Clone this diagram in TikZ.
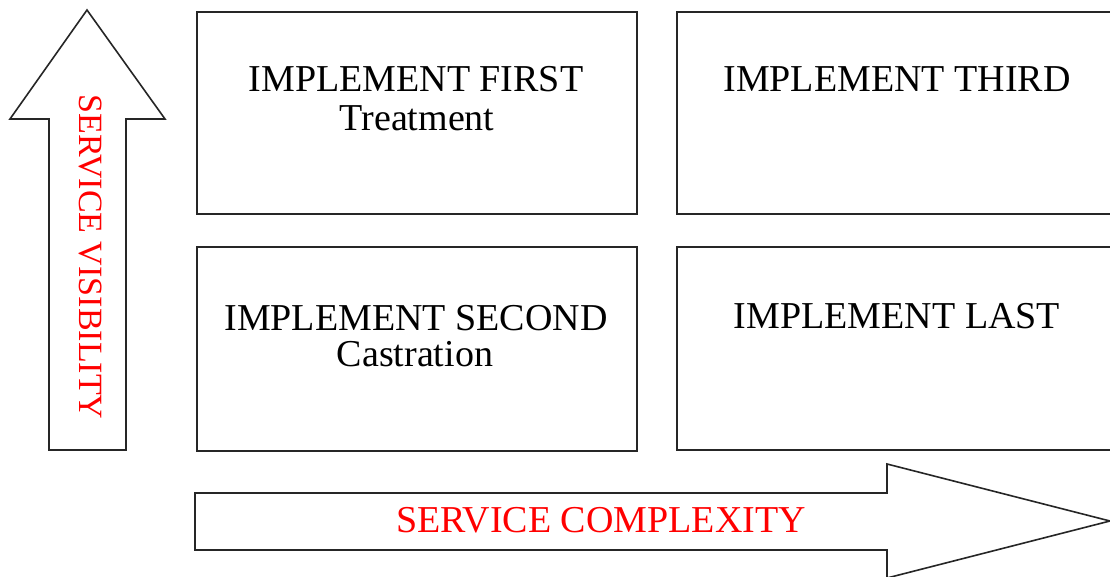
\documentclass[tikz,border=0pt]{standalone}
\usepackage{fontspec}
\setmainfont{Liberation Serif}
\begin{document}
\begin{tikzpicture}[x=1pt,y=-1pt,
  quad/.style={draw=black!85,line width=1.6pt,anchor=north west,inner sep=0pt},
  bigarrow/.style={draw=black!85,line width=1.6pt,line join=miter,fill=white},
  lbl/.style={font=\fontsize{38}{41}\selectfont,inner sep=0pt,anchor=base},
  axis/.style={font=\fontsize{34}{38}\selectfont,text=red,inner sep=0pt}]
\useasboundingbox (0,0) rectangle (1110,577);
% quadrant boxes
\node[quad,minimum width=440pt,minimum height=202pt] (q1) at (196,11) {};
\node[quad,minimum width=440pt,minimum height=202pt] (q3) at (676,11) {};
\node[quad,minimum width=440pt,minimum height=204pt] (q2) at (196,246) {};
\node[quad,minimum width=440pt,minimum height=203pt] (q4) at (676,246) {};
% box texts
\node[lbl] (t1) at (416,92) {IMPLEMENT FIRST};
\node[lbl] (t1b) at (417,131) {Treatment};
\node[lbl] (t3) at (897,92) {IMPLEMENT THIRD};
\node[lbl] (t2) at (416,330) {IMPLEMENT SECOND};
\node[lbl] (t2b) at (415,366) {Castration};
\node[lbl] (t4) at (897,328) {IMPLEMENT LAST};
% vertical arrow
\draw[bigarrow] (87,10) -- (165,119) -- (126,119) -- (126,450) -- (49,450) -- (49,119) -- (10,119) -- cycle;
\node[axis,rotate=-90] (vis) at (90,257) {SERVICE VISIBILITY};
% horizontal arrow
\draw[bigarrow] (195,493) -- (887,493) -- (887,464) -- (1110,521) -- (887,578) -- (887,550) -- (195,550) -- cycle;
\node[axis,font=\fontsize{38}{41}\selectfont] (cpx) at (601,520) {SERVICE COMPLEXITY};
\end{tikzpicture}
\end{document}
